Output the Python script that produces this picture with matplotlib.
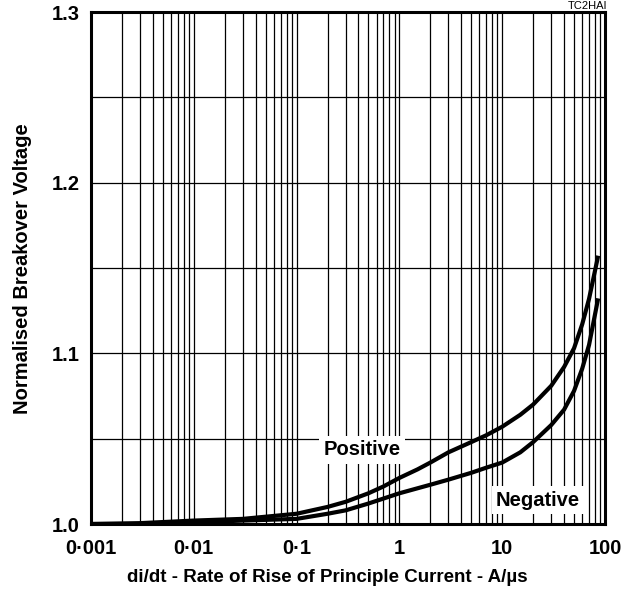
import matplotlib.pyplot as plt
import matplotlib.ticker as ticker
import numpy as np

plt.rcParams['font.family'] = ['Liberation Sans', 'DejaVu Sans']
plt.rcParams['font.weight'] = 'bold'

# di/dt (A/us) and normalised breakover voltage
pos_x = [0.001, 0.003, 0.01, 0.03, 0.1, 0.2, 0.3, 0.5, 0.7, 1, 1.5, 2, 3, 5, 7, 10, 15, 20, 30, 40, 50, 60, 70, 85]
pos_y = [1.000, 1.0005, 1.002, 1.003, 1.006, 1.010, 1.013, 1.018, 1.022, 1.027, 1.032, 1.036, 1.042, 1.048, 1.052, 1.057, 1.064, 1.070, 1.081, 1.092, 1.103, 1.117, 1.132, 1.156]

neg_x = [0.001, 0.003, 0.01, 0.03, 0.1, 0.2, 0.3, 0.5, 1, 2, 3, 5, 7, 10, 15, 20, 30, 40, 50, 60, 70, 85]
neg_y = [1.000, 1.000, 1.001, 1.002, 1.003, 1.006, 1.008, 1.012, 1.018, 1.023, 1.026, 1.030, 1.033, 1.036, 1.042, 1.048, 1.058, 1.067, 1.078, 1.091, 1.105, 1.131]

x_ticks = [0.001, 0.01, 0.1, 1, 10, 100]
x_tick_labels = ['0·001', '0·01', '0·1', '1', '10', '100']
y_ticks = [1.0, 1.1, 1.2, 1.3]
y_tick_labels = ['1.0', '1.1', '1.2', '1.3']

fig = plt.figure(figsize=(6.35, 6.0), dpi=100)
ax = fig.add_axes([91 / 635, 1 - 524 / 600, 514 / 635, 512 / 600])

ax.plot(pos_x, pos_y, color='black', linewidth=3, solid_joinstyle='round', zorder=3)
ax.plot(neg_x, neg_y, color='black', linewidth=3, solid_joinstyle='round', zorder=3)

ax.set_xscale('log')
ax.set_xlim(0.001, 100)
ax.set_ylim(1.0, 1.3)

ax.xaxis.set_major_locator(ticker.FixedLocator(x_ticks))
ax.xaxis.set_major_formatter(ticker.FixedFormatter(x_tick_labels))
ax.xaxis.set_minor_locator(ticker.LogLocator(base=10, subs=np.arange(2, 10)))
ax.xaxis.set_minor_formatter(ticker.NullFormatter())
ax.yaxis.set_major_locator(ticker.FixedLocator(y_ticks))
ax.yaxis.set_major_formatter(ticker.FixedFormatter(y_tick_labels))
ax.yaxis.set_minor_locator(ticker.MultipleLocator(0.05))

ax.grid(True, which='both', color='black', linewidth=0.9)
ax.tick_params(which='both', length=0, labelsize=14.5)
ax.tick_params(axis='x', pad=11)
ax.tick_params(axis='y', pad=8)
for lab in ax.get_xticklabels() + ax.get_yticklabels():
    lab.set_fontweight('bold')
for sp in ax.spines.values():
    sp.set_linewidth(2.2)
    sp.set_zorder(4)

ax.set_xlabel('di/dt - Rate of Rise of Principle Current - A/µs', fontsize=13.5, fontweight='bold')
ax.xaxis.set_label_coords((327 - 91) / 514, -(577 - 524) / 512)
ax.xaxis.label.set_va('center')
ax.set_ylabel('Normalised Breakover Voltage', fontsize=14.5, fontweight='bold')
ax.yaxis.set_label_coords(-(91 - 22) / 514, (524 - 269) / 512)
ax.yaxis.label.set_va('center')

box = dict(facecolor='white', edgecolor='none', pad=3)
ax.text(0.43, 1.0434, 'Positive', fontsize=14.5, fontweight='bold', ha='center', va='center', bbox=box, zorder=5)
ax.text(22.3, 1.014, 'Negative', fontsize=14.5, fontweight='bold', ha='center', va='center', bbox=box, zorder=5)

fig.text(607 / 635, 0.999, 'TC2HAI', fontsize=8, ha='right', va='top', fontweight='normal')

plt.savefig('out.png', dpi=100)
